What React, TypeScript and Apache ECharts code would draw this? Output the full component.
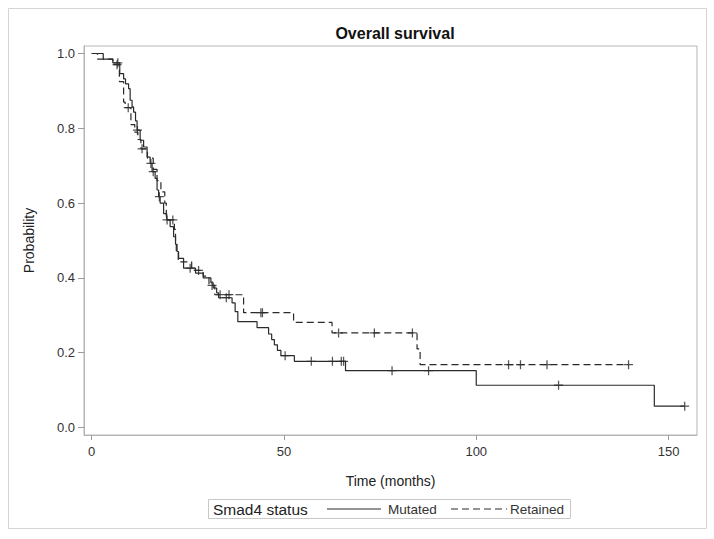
import React, { useEffect, useRef } from "react";
import * as echarts from "echarts";

const mutatedTimes = [0, 3.0, 5.5, 7.3, 8.3, 8.8, 9.6, 10.0, 10.5, 10.9, 11.4, 11.8, 12.6, 13.5, 14.4, 15.2, 15.7, 16.5, 17.0, 17.4, 17.8, 18.7, 19.5, 20.4, 21.3, 21.8, 22.2, 22.6, 23.9, 27.0, 29.0, 31.0, 31.6, 32.5, 33.0, 36.5, 37.3, 38.0, 43.0, 46.0, 46.8, 47.5, 48.3, 49.2, 52.7, 66.0, 100.0, 146.3];
const mutatedSurv = [1.0, 0.985, 0.975, 0.946, 0.932, 0.919, 0.906, 0.875, 0.857, 0.843, 0.82, 0.795, 0.768, 0.75, 0.723, 0.706, 0.684, 0.666, 0.635, 0.617, 0.6, 0.572, 0.555, 0.537, 0.51, 0.49, 0.47, 0.452, 0.426, 0.413, 0.4, 0.387, 0.373, 0.36, 0.347, 0.333, 0.31, 0.283, 0.267, 0.25, 0.235, 0.221, 0.206, 0.192, 0.177, 0.152, 0.113, 0.057];
const mutatedEnd = 154.2;
const mutatedCensored = [6.8, 11.9, 15.4, 16.0, 17.6, 25.6, 35.0, 50.3, 57.1, 62.6, 64.9, 65.5, 78.1, 87.6, 121.4, 154.2];

const retainedTimes = [0, 1.5, 5.5, 7.2, 8.3, 8.7, 10.2, 11.2, 12.0, 12.8, 14.5, 16.0, 17.0, 18.0, 19.0, 19.4, 21.5, 21.8, 22.0, 22.5, 26.0, 29.0, 30.5, 32.0, 39.5, 52.5, 62.5, 84.6, 85.4];
const retainedSurv = [1.0, 0.985, 0.97, 0.925, 0.87, 0.855, 0.81, 0.79, 0.77, 0.745, 0.72, 0.69, 0.66, 0.63, 0.6, 0.555, 0.53, 0.5, 0.47, 0.443, 0.42, 0.405, 0.38, 0.355, 0.307, 0.281, 0.253, 0.21, 0.168];
const retainedEnd = 139.6;
const retainedCensored = [6.6, 9.5, 13.1, 19.6, 21.1, 27.8, 31.3, 33.4, 35.7, 44.0, 44.4, 64.2, 73.5, 83.4, 108.4, 111.5, 118.4, 139.6];

const xTicks = [0, 50, 100, 150];
const yTicks = [0, 0.2, 0.4, 0.6, 0.8, 1.0];

const legendTitle = "Smad4 status";
const groupNames = ["Mutated", "Retained"];

const FONT = "'Liberation Sans', Arial, sans-serif";
const INK = "#2a2a2a";
const DASH = [7, 4];

function survAt(times: number[], surv: number[], t: number) {
  let v = surv[0];
  for (let i = 0; i < times.length; i++) {
    if (times[i] <= t) v = surv[i];
  }
  return v;
}

function stepData(times: number[], surv: number[], end: number) {
  const d = times.map((t, i) => [t, surv[i]]);
  d.push([end, surv[surv.length - 1]]);
  return d;
}

const PLUS = "path://M-0.7,-5L0.7,-5L0.7,-0.7L5,-0.7L5,0.7L0.7,0.7L0.7,5L-0.7,5L-0.7,0.7L-5,0.7L-5,-0.7L-0.7,-0.7Z";

export default function App() {
  const ref = useRef<HTMLDivElement>(null);
  useEffect(() => {
    if (!ref.current) return;
    const chart = echarts.init(ref.current, null, { renderer: "svg" });
    const ly = 509;
    chart.setOption({
      animation: false,
      backgroundColor: "#ffffff",
      title: {
        text: "Overall survival",
        left: 390,
        top: 20,
        textAlign: "center",
        textStyle: { fontFamily: FONT, fontSize: 16, fontWeight: "bold", color: "#111" },
      },
      grid: {
        left: 84,
        top: 46,
        right: 17,
        bottom: 104,
        show: true,
        borderColor: "#b5b5b5",
        borderWidth: 1,
      },
      xAxis: {
        type: "value",
        min: -2,
        max: 157.4,
        name: "Time (months)",
        nameLocation: "middle",
        nameGap: 39,
        nameTextStyle: { fontFamily: FONT, fontSize: 14, color: "#222" },
        axisLine: { show: true, onZero: false, lineStyle: { color: "#b5b5b5" } },
        axisTick: { show: true, length: 5, customValues: xTicks, lineStyle: { color: "#9a9a9a" } },
        axisLabel: { customValues: xTicks, fontFamily: FONT, fontSize: 13, color: "#333", margin: 10 },
        splitLine: { show: false },
      },
      yAxis: {
        type: "value",
        min: -0.02,
        max: 1.02,
        name: "Probability",
        nameLocation: "middle",
        nameGap: 48,
        nameTextStyle: { fontFamily: FONT, fontSize: 14, color: "#222" },
        axisLine: { show: true, onZero: false, lineStyle: { color: "#b5b5b5" } },
        axisTick: { show: true, length: 6, customValues: yTicks, lineStyle: { color: "#9a9a9a" } },
        axisLabel: {
          customValues: yTicks,
          fontFamily: FONT,
          fontSize: 13,
          color: "#333",
          margin: 9,
          formatter: (v: number) => v.toFixed(1),
        },
        splitLine: { show: false },
      },
      graphic: [
        {
          type: "rect",
          shape: { x: 8.5, y: 8.5, width: 698, height: 520 },
          style: { fill: "none", stroke: "#d4d4d4", lineWidth: 1 },
          silent: true,
        },
        {
          type: "rect",
          shape: { x: 208.5, y: 499.5, width: 362, height: 19 },
          style: { fill: "none", stroke: "#c8c8c8", lineWidth: 1 },
          silent: true,
        },
        {
          type: "text",
          x: 213,
          y: ly,
          style: {
            text: legendTitle,
            fontFamily: FONT,
            fontSize: 15.5,
            fill: "#222",
            verticalAlign: "middle",
          },
          silent: true,
        },
        {
          type: "line",
          shape: { x1: 327, y1: ly, x2: 381, y2: ly },
          style: { stroke: INK, lineWidth: 1.2 },
          silent: true,
        },
        {
          type: "text",
          x: 388,
          y: ly,
          style: {
            text: groupNames[0],
            fontFamily: FONT,
            fontSize: 13.5,
            fill: "#333",
            verticalAlign: "middle",
          },
          silent: true,
        },
        {
          type: "line",
          shape: { x1: 451, y1: ly, x2: 507, y2: ly },
          style: { stroke: INK, lineWidth: 1.2, lineDash: DASH },
          silent: true,
        },
        {
          type: "text",
          x: 510,
          y: ly,
          style: {
            text: groupNames[1],
            fontFamily: FONT,
            fontSize: 13.5,
            fill: "#333",
            verticalAlign: "middle",
          },
          silent: true,
        },
      ],
      series: [
        {
          name: groupNames[0],
          type: "line",
          step: "end",
          symbol: "none",
          data: stepData(mutatedTimes, mutatedSurv, mutatedEnd),
          lineStyle: { color: INK, width: 1.2, type: "solid" },
          itemStyle: { color: INK },
        },
        {
          name: groupNames[1],
          type: "line",
          step: "end",
          symbol: "none",
          data: stepData(retainedTimes, retainedSurv, retainedEnd),
          lineStyle: { color: INK, width: 1.2, type: DASH },
          itemStyle: { color: INK },
        },
        {
          name: groupNames[0] + " censored",
          type: "scatter",
          symbol: PLUS,
          symbolSize: 9,
          data: mutatedCensored.map((t) => [t, survAt(mutatedTimes, mutatedSurv, t)]),
          itemStyle: { color: INK },
          silent: true,
        },
        {
          name: groupNames[1] + " censored",
          type: "scatter",
          symbol: PLUS,
          symbolSize: 9,
          data: retainedCensored.map((t) => [t, survAt(retainedTimes, retainedSurv, t)]),
          itemStyle: { color: INK },
          silent: true,
        },
      ],
    });
    return () => chart.dispose();
  }, []);
  return (
    <div
      ref={ref}
      style={{ position: "absolute", left: 0, top: 0, width: 714, height: 539 }}
    />
  );
}
